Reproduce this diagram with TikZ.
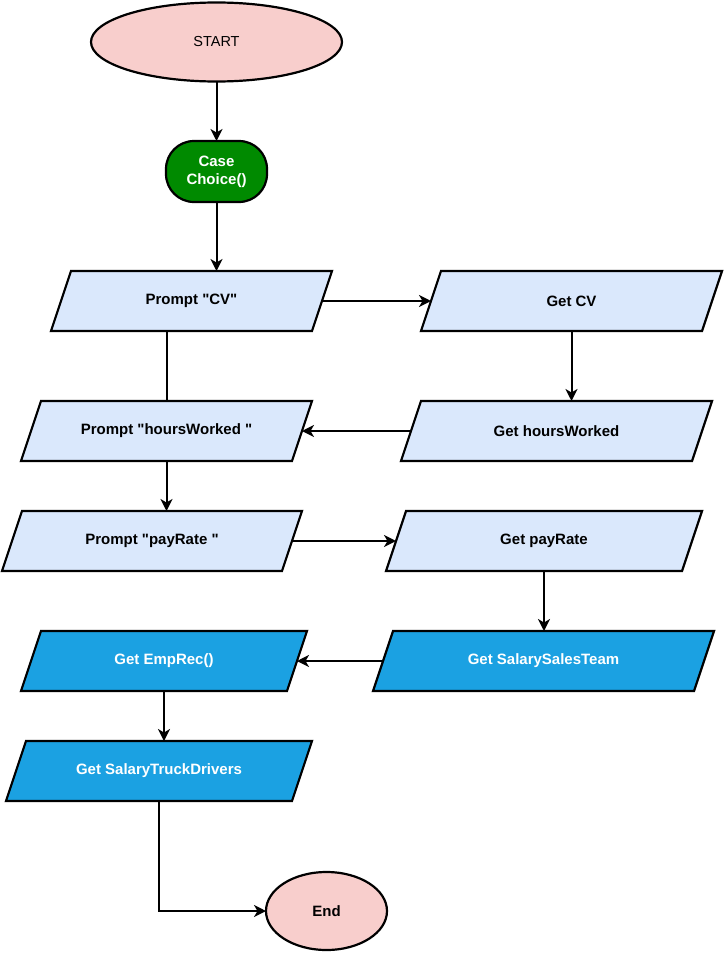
\documentclass[tikz,border=0pt]{standalone}
\usepackage{fontspec}
\setmainfont{Liberation Sans}[Ligatures=TeXOff]
\usetikzlibrary{shapes.geometric, arrows.meta, backgrounds}
\definecolor{pinkfill}{HTML}{F8CECC}
\definecolor{greenfill}{HTML}{008A00}
\definecolor{lightblue}{HTML}{DAE8FC}
\definecolor{strongblue}{HTML}{1BA1E2}
\begin{document}
\begin{tikzpicture}[x=1pt, y=-1pt,
  every node/.style={font=\fontsize{15}{18}\selectfont\bfseries, inner sep=0pt, outer sep=0pt},
  term/.style={ellipse, draw=black, line width=2.2pt, fill=pinkfill},
  iobox/.style={rectangle, minimum height=60pt},
  lightpara/.style={draw=black, line width=2.2pt, fill=lightblue, line join=miter},
  strongpara/.style={draw=black, line width=2.2pt, fill=strongblue, line join=miter},
  casebox/.style={rectangle, draw=black, line width=2.2pt, fill=greenfill, rounded corners=28pt, text=white, align=center},
  flow/.style={line width=2pt, -{Stealth[length=12pt, width=12pt, inset=3.5pt]}},
  plainline/.style={line width=2pt},
]
\useasboundingbox (0,0) rectangle (723,953);

% nodes
\node[term, minimum width=251pt, minimum height=79pt, font=\fontsize{14.5}{18}\selectfont] (start) at (216.5,42) {START};
\node[casebox, minimum width=101pt, minimum height=61pt] (case) at (216.5,171.5) {Case\\Choice()};

\node[iobox, minimum width=261pt] (pcv) at (191.5,301) {Prompt "CV"};
\node[iobox, minimum width=281pt] (gcv) at (571.5,301) {Get CV};
\node[iobox, minimum width=271pt] (phw) at (166.5,431) {Prompt "hoursWorked "};
\node[iobox, minimum width=291pt] (ghw) at (556.5,431) {Get hoursWorked};
\node[iobox, minimum width=280pt] (ppr) at (152,541) {Prompt "payRate "};
\node[iobox, minimum width=296pt] (gpr) at (544,541) {Get payRate};
\node[iobox, text=white, minimum width=321pt] (gsst) at (543.5,661) {Get SalarySalesTeam};
\node[iobox, text=white, minimum width=266pt] (gemp) at (164,661) {Get EmpRec()};
\node[iobox, text=white, minimum width=286pt] (gstd) at (159,771) {Get SalaryTruckDrivers};
\node[term, minimum width=121pt, minimum height=78pt] (stop) at (326.5,911) {End};

% parallelograms behind the texts
\begin{scope}[on background layer]
\foreach \n/\s in {pcv/lightpara, gcv/lightpara, phw/lightpara, ghw/lightpara,
                   ppr/lightpara, gpr/lightpara, gsst/strongpara, gemp/strongpara, gstd/strongpara}
  \draw[\s] ([xshift=10pt]\n.north west) -- ([xshift=10pt]\n.north east)
    -- ([xshift=-10pt]\n.south east) -- ([xshift=-10pt]\n.south west) -- cycle;
\end{scope}

% connectors
\draw[flow] (start.south) -- (case.north);
\draw[flow] (case.south) -- (case.south |- pcv.north);
\draw[flow] (pcv.east) -- (gcv.west);
\draw[plainline] (phw.north |- pcv.south) -- (phw.north);
\draw[flow] (gcv.south) -- (gcv.south |- ghw.north);
\draw[flow] (ghw.west) -- (phw.east);
\draw[flow] (phw.south) -- (phw.south |- ppr.north);
\draw[flow] (ppr.east) -- (gpr.west);
\draw[flow] (gpr.south) -- (gpr.south |- gsst.north);
\draw[flow] (gsst.west) -- (gemp.east);
\draw[flow] (gemp.south) -- (gemp.south |- gstd.north);
\draw[flow] (gstd.south) |- (stop.west);
\end{tikzpicture}
\end{document}
